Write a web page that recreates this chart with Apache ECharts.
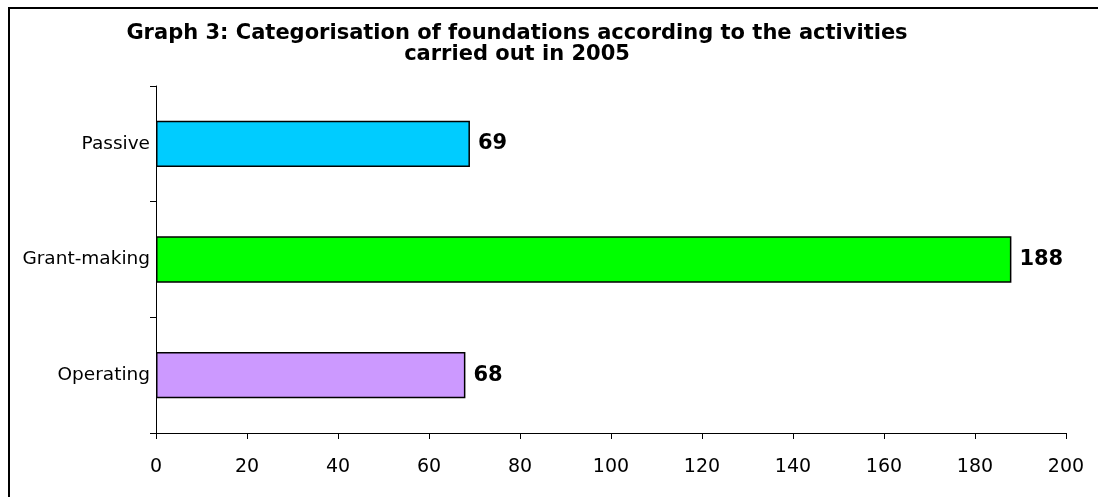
<!DOCTYPE html>
<html>
<head>
<meta charset="utf-8">
<style>
  html, body { margin: 0; padding: 0; background: #fff; }
  #chart { width: 1098px; height: 497px; }
</style>
<script src="https://cdn.jsdelivr.net/npm/echarts@6/dist/echarts.min.js"></script>
</head>
<body>
<div id="chart"></div>
<script>
const categories = ['Passive', 'Grant-making', 'Operating'];
const values = [69, 188, 68];
const barColors = ['#00CCFF', '#00FF00', '#CC99FF'];
const xTicks = { min: 0, max: 200, interval: 20 };
const titleText = 'Graph 3: Categorisation of foundations according to the activities\ncarried out in 2005';

const chart = echarts.init(document.getElementById('chart'), null, { renderer: 'canvas' });
const FONT = 'DejaVu Sans';
chart.setOption({
  animation: false,
  backgroundColor: '#ffffff',
  title: {
    text: titleText,
    left: 512,
    top: 18,
    textAlign: 'center',
    textStyle: { fontFamily: FONT, fontWeight: 'bold', fontSize: 21, color: '#000', lineHeight: 21 }
  },
  graphic: [{
    type: 'polyline',
    shape: { points: [[9, 497], [9, 8], [1098, 8]] },
    style: { fill: null, stroke: '#000', lineWidth: 2 },
    silent: true,
    z: 100
  }],
  grid: { left: 156, right: 32, top: 86, bottom: 64, containLabel: false },
  xAxis: {
    type: 'value',
    min: xTicks.min, max: xTicks.max, interval: xTicks.interval,
    axisLine: { show: true, lineStyle: { color: '#000', width: 1 } },
    axisTick: { show: true, length: 6, lineStyle: { color: '#000' } },
    splitLine: { show: false },
    axisLabel: { color: '#000', fontFamily: FONT, fontSize: 19, margin: 25 }
  },
  yAxis: {
    type: 'category',
    data: categories,
    inverse: true,
    axisLine: { show: true, lineStyle: { color: '#000', width: 1 } },
    axisTick: { show: true, length: 6, lineStyle: { color: '#000' } },
    axisLabel: { color: '#000', fontFamily: FONT, fontSize: 18.5, margin: 6 }
  },
  series: [{
    type: 'bar',
    data: values.map((v, i) => ({ value: v, itemStyle: { color: barColors[i] } })),
    barCategoryGap: '60%',
    itemStyle: { borderColor: '#000', borderWidth: 1.5 },
    label: {
      show: true, position: 'right', distance: 8,
      color: '#000', fontFamily: FONT, fontWeight: 'bold', fontSize: 21
    }
  }]
});
</script>
</body>
</html>
